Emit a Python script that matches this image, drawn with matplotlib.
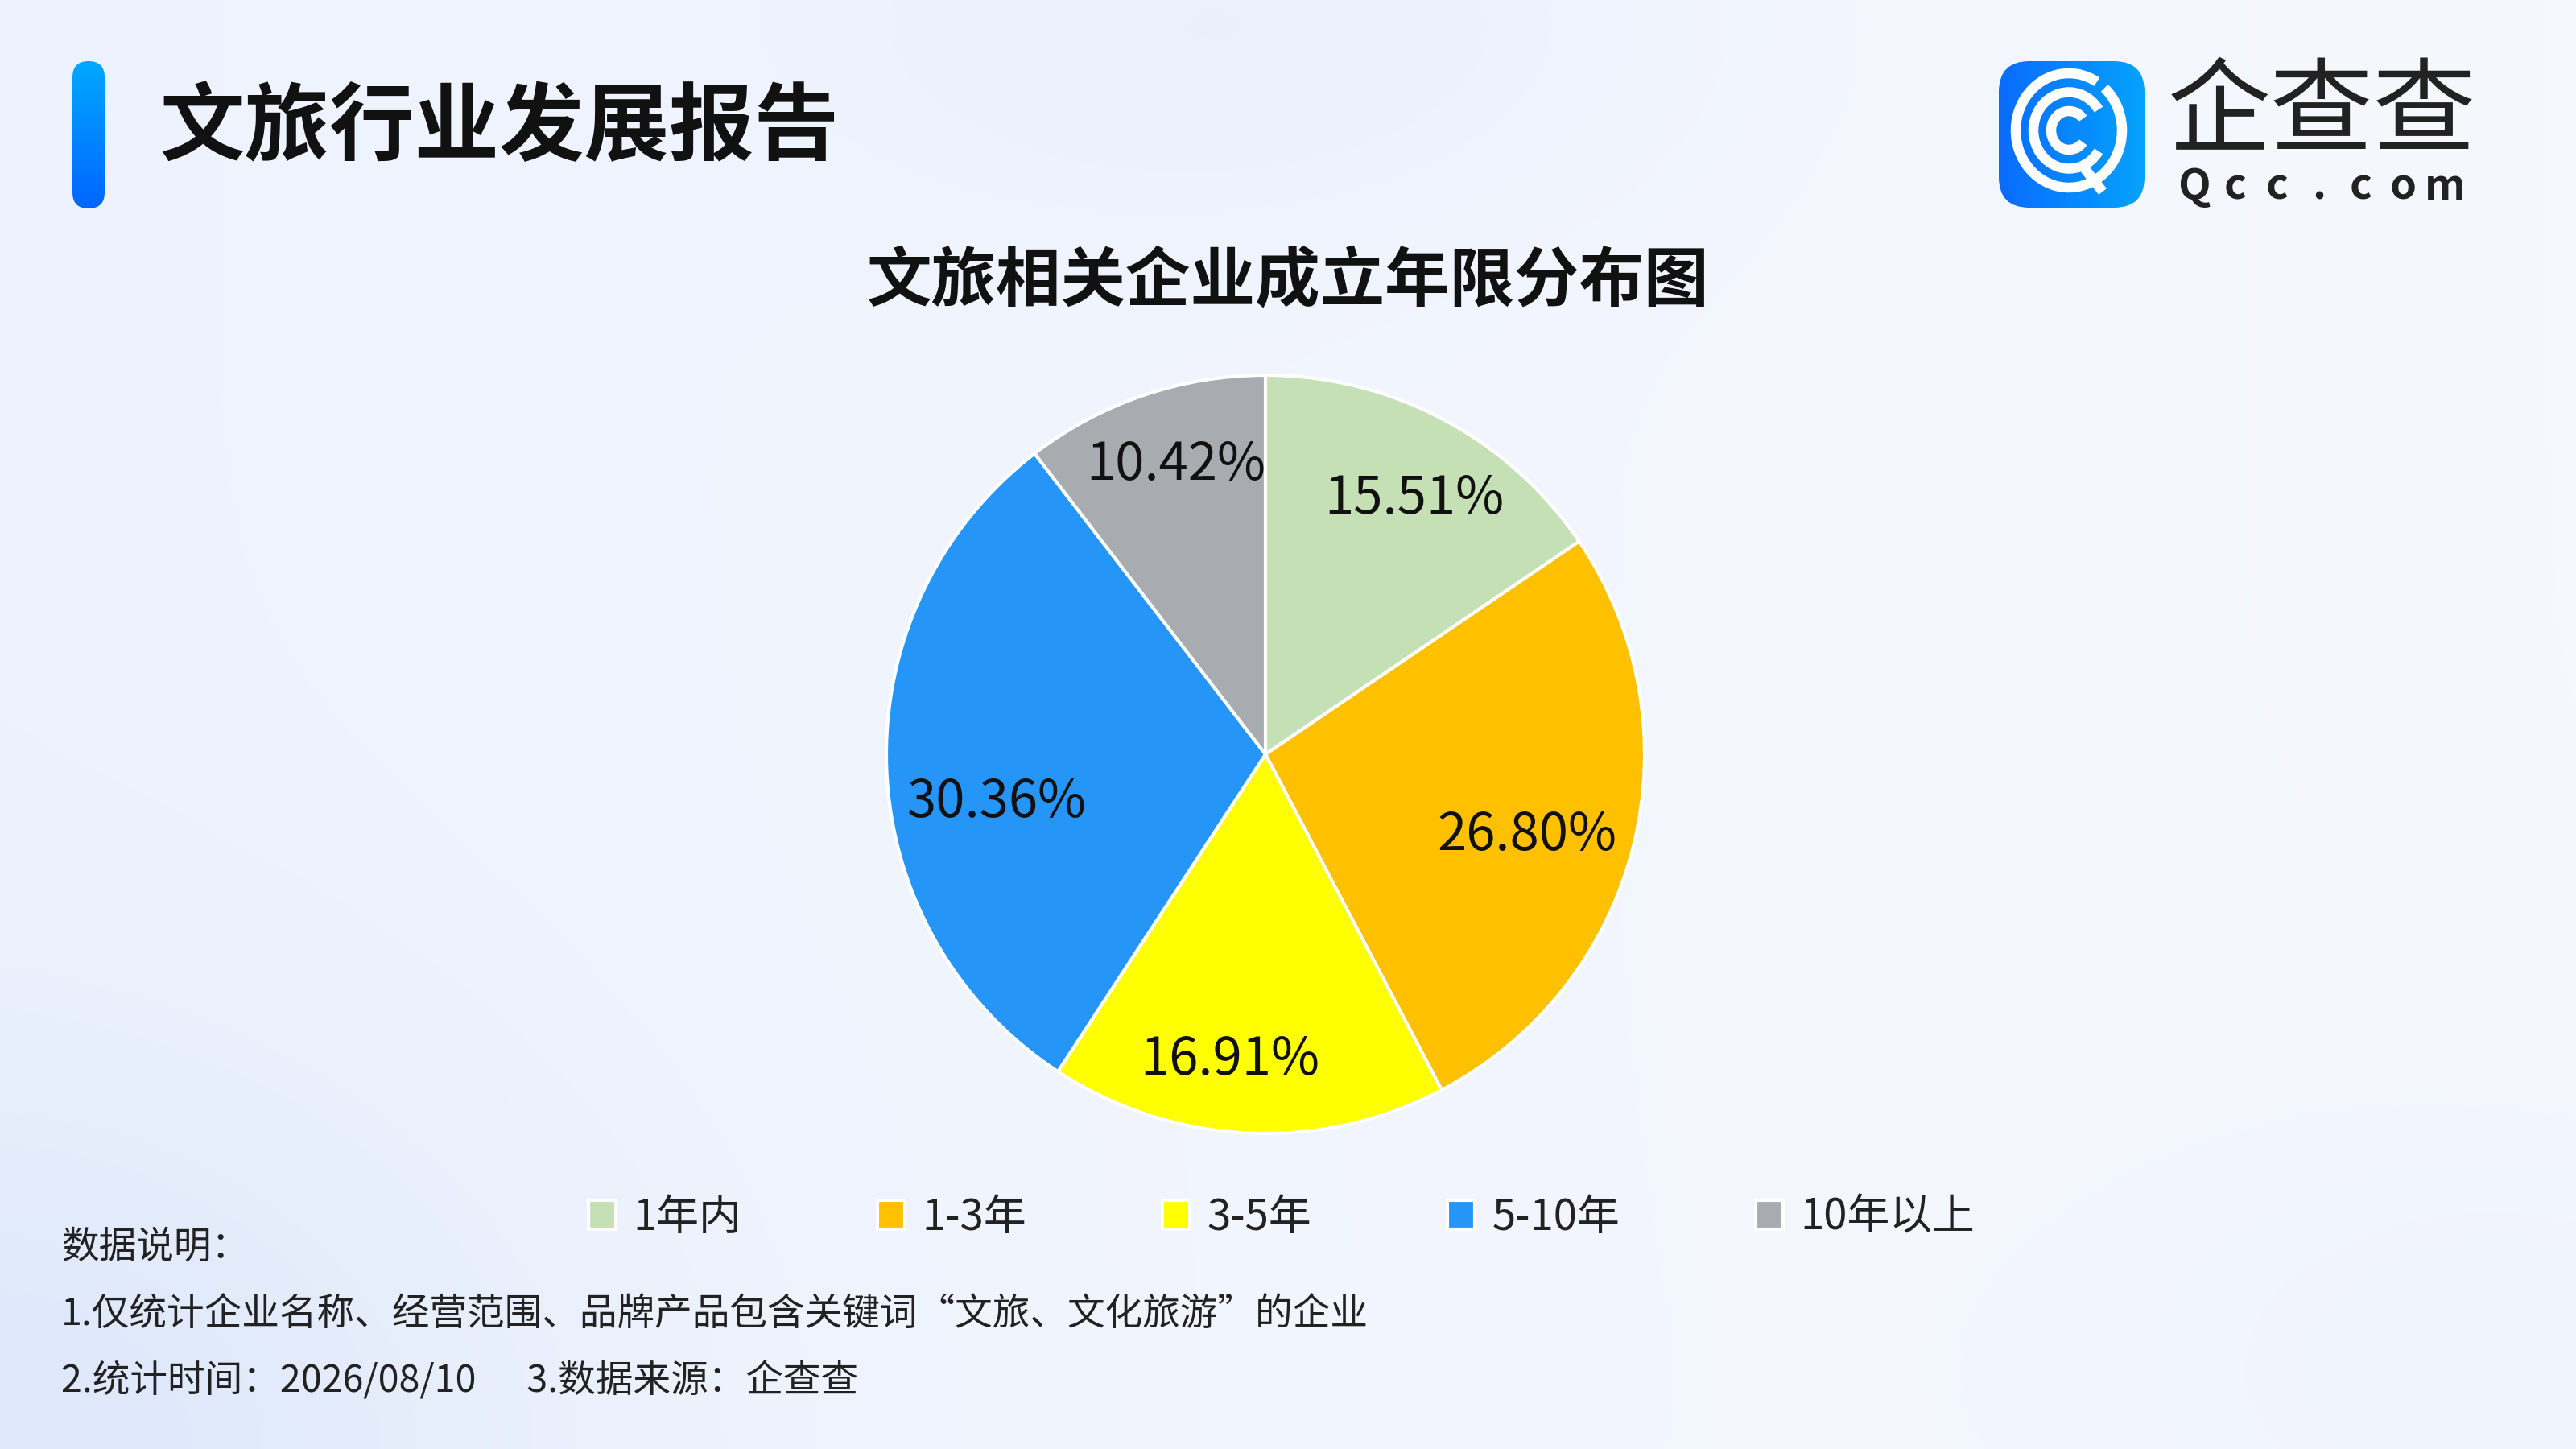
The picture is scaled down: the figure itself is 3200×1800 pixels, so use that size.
import numpy as np
import matplotlib
matplotlib.use("Agg")
import matplotlib.pyplot as plt
from matplotlib.patches import FancyBboxPatch, Patch, Arc
from matplotlib.colors import LinearSegmentedColormap
from matplotlib.transforms import ScaledTranslation

plt.rcParams['font.family'] = ['Noto Sans CJK SC', 'DejaVu Sans']

# ---- data ----
categories = ["1年内", "1-3年", "3-5年", "5-10年", "10年以上"]
shares = [15.51, 26.80, 16.91, 30.36, 10.42]
colors = ["#c5e0b4", "#ffc000", "#ffff00", "#2596f8", "#a8acb0"]
header_title = "文旅行业发展报告"
chart_title = "文旅相关企业成立年限分布图"
notes = ["数据说明：",
         "1.仅统计企业名称、经营范围、品牌产品包含关键词“文旅、文化旅游”的企业",
         "2.统计时间：2026/08/10      3.数据来源：企查查"]

# label layout (radius fraction and small angular nudge, degrees)
label_r = [0.79, 0.72, 0.80, 0.72, 0.81]
label_nudge = [-1.8, -2.3, -4.0, 7.1, -1.8]

W, H = 3200, 1800
fig = plt.figure(figsize=(16, 9), dpi=200)

# background
bg = fig.add_axes([0, 0, 1, 1])
bg.set_xlim(0, W)
bg.set_ylim(H, 0)
bg.axis("off")
yy, xx = np.mgrid[0:H:4, 0:W:4]
blob1 = np.exp(-(((xx - 1550) / 500) ** 2 + ((yy - 30) / 250) ** 2))
blob2 = np.exp(-(((xx - 0) / 700) ** 2 + ((yy - 1800) / 500) ** 2))
blob3 = np.exp(-(((xx - 3200) / 600) ** 2 + ((yy - 1700) / 400) ** 2))
val = 0.38 + 0.22 * (xx / W) - 0.2 * blob1 - 0.4 * blob2 - 0.15 * blob3
cmap = LinearSegmentedColormap.from_list("bgc", ["#dfe9fb", "#f6f8fe"])
bg.imshow(val, extent=[0, W, H, 0], cmap=cmap, vmin=0, vmax=0.6, aspect="auto",
          interpolation="bilinear", zorder=0)

# header accent bar (gradient)
grad = np.linspace(0, 1, 100).reshape(-1, 1)
bar_cmap = LinearSegmentedColormap.from_list("bar", ["#00a8ff", "#0066ff"])
im = bg.imshow(grad, extent=[90, 130, 259, 76], cmap=bar_cmap, aspect="auto", zorder=2)
clip = FancyBboxPatch((90, 76), 40, 183, boxstyle="round,pad=0,rounding_size=20",
                      transform=bg.transData, facecolor="none", edgecolor="none")
bg.add_patch(clip)
im.set_clip_path(clip)

bg.text(198, 160, header_title, fontsize=38, fontweight="heavy", color="#111111",
        ha="left", va="center", zorder=3)

# logo
logo_grad = np.linspace(0, 1, 100).reshape(1, -1)
logo_cmap = LinearSegmentedColormap.from_list("logo", ["#0a6cff", "#05a2fc"])
lim = bg.imshow(logo_grad, extent=[2483, 2664, 258, 76], cmap=logo_cmap, aspect="auto", zorder=2)
lclip = FancyBboxPatch((2483, 76), 181, 182, boxstyle="round,pad=0,rounding_size=38",
                       transform=bg.transData, facecolor="none", edgecolor="none")
bg.add_patch(lclip)
lim.set_clip_path(lclip)
cx, cy = 2570, 162
bg.add_patch(Arc((cx, cy), 132, 142, theta1=-50, theta2=300, color="white", lw=4.5, zorder=4))
bg.add_patch(Arc((cx, cy), 88, 95, theta1=35, theta2=325, color="white", lw=4.5, zorder=4))
bg.add_patch(Arc((cx, cy), 44, 48, theta1=40, theta2=320, color="white", lw=4.5, zorder=4))
bg.plot([2590, 2612], [210, 238], color="white", lw=4.5, solid_capstyle="butt", zorder=4)
bg.text(2693, 143, "企查查", fontsize=46, fontweight="light", color="#222222",
        ha="left", va="center", zorder=3)
for i, ch in enumerate("Qcc.com"):
    bg.text(2725 + i * 52, 232, ch, fontsize=19, fontweight="bold", color="#222222",
            ha="center", va="center", zorder=3)

# chart title
bg.text(1600, 350, chart_title, fontsize=29, fontweight="bold", color="#111111",
        ha="center", va="center", zorder=3)

# notes
for t, y in zip(notes, [1549, 1633, 1716]):
    bg.text(76, y, t, fontsize=16.8, color="#222222", ha="left", va="center", zorder=3)

# pie
R = 471
cxp, cyp = 1572, 937
ax = fig.add_axes([(cxp - R) / W, (H - cyp - R) / H, 2 * R / W, 2 * R / H])
wedges, texts, autotexts = ax.pie(
    shares, colors=colors, startangle=90, counterclock=False,
    autopct=lambda p: f"{p:.2f}%", pctdistance=0.76,
    wedgeprops=dict(edgecolor="white", linewidth=1.5),
    textprops=dict(fontsize=23.5, color="#111111"))
shift = ScaledTranslation(0, -2 / 72, fig.dpi_scale_trans)
for w, t, r, dn in zip(wedges, autotexts, label_r, label_nudge):
    ang = np.deg2rad((w.theta1 + w.theta2) / 2 + dn)
    t.set_position((r * np.cos(ang), r * np.sin(ang)))
    t.set_transform(ax.transData + shift)
ax.set_xlim(-1.0, 1.0)
ax.set_ylim(-1.0, 1.0)
ax.set_aspect("equal")
ax.axis("off")
ax.patch.set_alpha(0)

# legend
handles = [Patch(facecolor=c, edgecolor="white", linewidth=1.5) for c in colors]
leg = fig.legend(handles, categories, loc="center", bbox_to_anchor=(1592 / W, 1 - 1512 / H),
                 ncol=5, frameon=False, fontsize=19, handlelength=0.65, handleheight=0.65,
                 handletextpad=0.4, columnspacing=3.2)
for t in leg.get_texts():
    t.set_color("#222222")

fig.savefig("out.png", dpi=200)
